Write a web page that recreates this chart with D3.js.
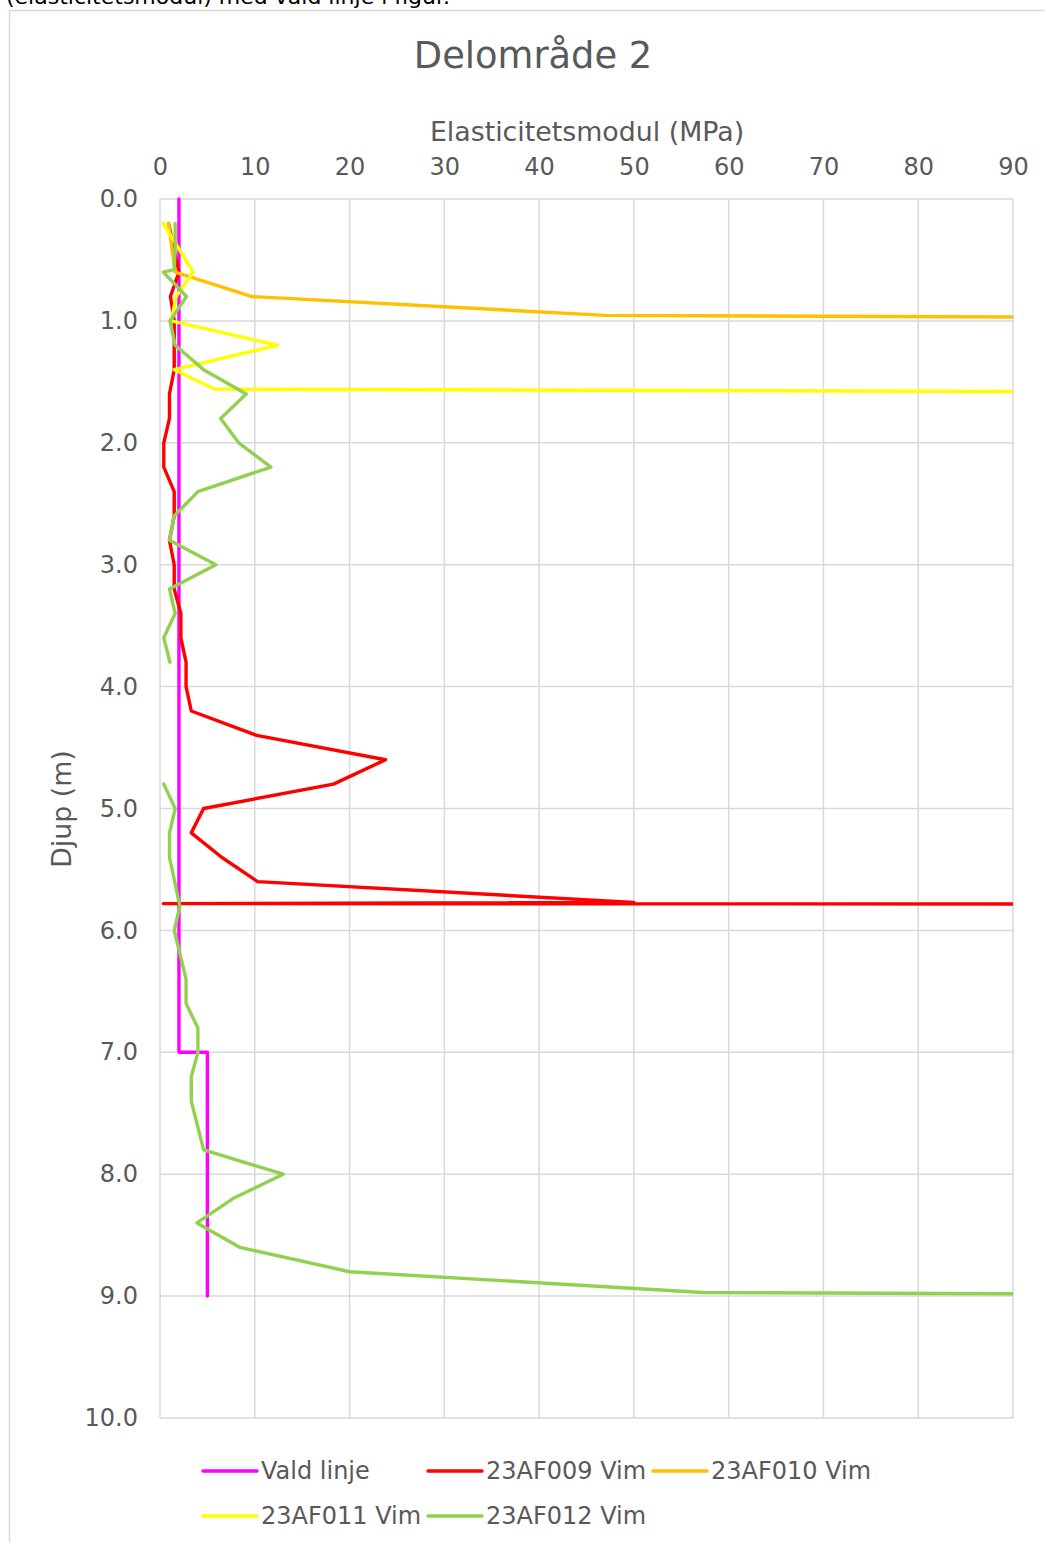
<!DOCTYPE html>
<html>
<head>
<meta charset="utf-8">
<script src="https://cdn.jsdelivr.net/npm/d3@7"></script>
<style>
  html, body { margin: 0; padding: 0; background: #ffffff; }
  svg { display: block; }
  text { font-family: "DejaVu Sans", Verdana, sans-serif; }
</style>
</head>
<body>
<svg id="chart" width="1045" height="1542"></svg>
<script>
// ---------- data ----------
const xTicks = [0, 10, 20, 30, 40, 50, 60, 70, 80, 90];
const yTicks = [0, 1, 2, 3, 4, 5, 6, 7, 8, 9, 10];

const seriesNames = ["Vald linje", "23AF009 Vim", "23AF010 Vim", "23AF011 Vim", "23AF012 Vim"];
const seriesColors = ["#FF00FF", "#FF0000", "#FFC000", "#FFFF00", "#92D050"];

const valdDepth = [0, 7.0, 7.0, 9.0];
const valdValue = [2, 2, 5, 5];

const af009Depth = [0.2, 0.6, 0.8, 1.0, 1.2, 1.4, 1.6, 1.8, 2.0, 2.2, 2.4, 2.6, 2.8, 3.0, 3.2, 3.4, 3.6, 3.8, 4.0, 4.2, 4.4, 4.6, 4.8, 5.0, 5.2, 5.4, 5.6, 5.77, 5.78, 5.79];
const af009Value = [0.9, 2.0, 1.1, 1.5, 1.5, 1.5, 1.0, 1.0, 0.4, 0.4, 1.5, 1.5, 1.0, 1.5, 1.5, 2.2, 2.2, 2.75, 2.75, 3.3, 10.2, 23.8, 18.3, 4.6, 3.3, 6.5, 10.3, 50, 0.35, 300];

const af010Depth = [0.2, 0.6, 0.8, 0.955, 1.0];
const af010Value = [0.9, 1.6, 9.7, 47, 200];

const af011Depth = [0.2, 0.6, 0.8, 1.0, 1.2, 1.4, 1.56, 1.6];
const af011Value = [0.35, 3.5, 1.7, 1.2, 12.4, 1.5, 5.8, 180];

const af012Depth = [0.2, 0.4, 0.58, 0.6, 0.8, 1.0, 1.2, 1.4, 1.6, 1.8, 2.0, 2.2, 2.4, 2.6, 2.8, 3.0, 3.2, 3.4, 3.6, 3.8,
                    4.0,
                    4.8, 5.0, 5.2, 5.4, 5.8, 6.0, 6.4, 6.6, 6.8, 7.0, 7.2, 7.4, 7.8, 8.0, 8.2, 8.4, 8.6, 8.8, 8.97, 9.0];
const af012Value = [1.6, 1.6, 1.5, 0.35, 2.8, 1.05, 1.6, 4.6, 9.1, 6.4, 8.3, 11.7, 4.0, 1.5, 1.0, 5.9, 1.0, 1.6, 0.4, 1.05,
                    null,
                    0.4, 1.6, 1.0, 1.0, 2.1, 1.5, 2.75, 2.75, 4.0, 4.0, 3.3, 3.3, 4.6, 13.0, 7.7, 3.9, 8.4, 20.0, 57.3, 150];

const seriesDepths = [valdDepth, af009Depth, af010Depth, af011Depth, af012Depth];
const seriesValues = [valdValue, af009Value, af010Value, af011Value, af012Value];

// ---------- layout ----------
const plot = { left: 160, right: 1013, top: 199, bottom: 1418 };
const textColor = "#595959";
const gridColor = "#d9d9d9";
const fontFam = '"DejaVu Sans", Verdana, sans-serif';

const svg = d3.select("#chart");

const x = d3.scaleLinear().domain([0, 90]).range([plot.left, plot.right]);
const y = d3.scaleLinear().domain([0, 10]).range([plot.top, plot.bottom]);

// clipped top caption (mostly outside the window, as in the reference)
svg.append("text")
  .attr("x", 6).attr("y", 4)
  .attr("font-size", 22).attr("fill", "#000")
  .text("(elasticitetsmodul) med vald linje i figur.");

// chart frame
svg.append("rect")
  .attr("x", 9.5).attr("y", 10.5)
  .attr("width", 1100).attr("height", 1600)
  .attr("fill", "#fff").attr("stroke", gridColor).attr("stroke-width", 1.5);

// title
svg.append("text")
  .attr("x", 533).attr("y", 68)
  .attr("text-anchor", "middle")
  .attr("font-size", 36.8).attr("fill", textColor)
  .text("Delområde 2");

// x-axis title
svg.append("text")
  .attr("x", 587).attr("y", 141)
  .attr("text-anchor", "middle")
  .attr("font-size", 26.8).attr("fill", textColor)
  .text("Elasticitetsmodul (MPa)");

// y-axis title
svg.append("text")
  .attr("transform", "translate(71,809) rotate(-90)")
  .attr("text-anchor", "middle")
  .attr("font-size", 26.8).attr("fill", textColor)
  .text("Djup (m)");

// grid
const grid = svg.append("g");
grid.selectAll("line.v").data(xTicks).join("line")
  .attr("x1", d => x(d)).attr("x2", d => x(d))
  .attr("y1", plot.top).attr("y2", plot.bottom)
  .attr("stroke", gridColor).attr("stroke-width", 1.5);
grid.selectAll("line.h").data(yTicks).join("line")
  .attr("x1", plot.left).attr("x2", plot.right)
  .attr("y1", d => y(d)).attr("y2", d => y(d))
  .attr("stroke", gridColor).attr("stroke-width", 1.5);

// axes (labels only)
const xAxis = svg.append("g")
  .attr("transform", `translate(0,${plot.top - 20})`)
  .call(d3.axisTop(x).tickValues(xTicks).tickSize(0).tickPadding(4).tickFormat(d3.format("d")));
xAxis.select(".domain").remove();
xAxis.selectAll("text").attr("font-size", 24).attr("fill", textColor).attr("font-family", fontFam);

const yAxis = svg.append("g")
  .attr("transform", `translate(${plot.left - 22},0)`)
  .call(d3.axisLeft(y).tickValues(yTicks).tickSize(0).tickPadding(0).tickFormat(d3.format(".1f")));
yAxis.select(".domain").remove();
yAxis.selectAll("text").attr("font-size", 24).attr("fill", textColor).attr("font-family", fontFam);

// clip
svg.append("clipPath").attr("id", "plotclip")
  .append("rect")
  .attr("x", plot.left - 6).attr("y", plot.top - 6)
  .attr("width", plot.right - plot.left + 6).attr("height", plot.bottom - plot.top + 12);

const line = d3.line()
  .defined(d => d.v !== null)
  .x(d => x(d.v))
  .y(d => y(d.depth));

const lines = svg.append("g").attr("clip-path", "url(#plotclip)");
seriesNames.forEach((name, i) => {
  const pts = seriesDepths[i].map((dep, k) => ({ depth: dep, v: seriesValues[i][k] }));
  lines.append("path")
    .datum(pts)
    .attr("d", line)
    .attr("fill", "none")
    .attr("stroke", seriesColors[i])
    .attr("stroke-width", 3.4)
    .attr("stroke-linejoin", "round")
    .attr("stroke-linecap", "round");
});

// legend
const legendPos = [
  { lx: 203, ty: 1471 },
  { lx: 428, ty: 1471 },
  { lx: 653, ty: 1471 },
  { lx: 203, ty: 1516 },
  { lx: 428, ty: 1516 }
];
const legend = svg.append("g");
seriesNames.forEach((name, i) => {
  const p = legendPos[i];
  legend.append("line")
    .attr("x1", p.lx).attr("x2", p.lx + 54)
    .attr("y1", p.ty).attr("y2", p.ty)
    .attr("stroke", seriesColors[i]).attr("stroke-width", 3.4)
    .attr("stroke-linecap", "round");
  legend.append("text")
    .attr("x", p.lx + 58).attr("y", p.ty)
    .attr("dy", "0.35em")
    .attr("font-size", 24).attr("fill", textColor)
    .text(name);
});
</script>
</body>
</html>
